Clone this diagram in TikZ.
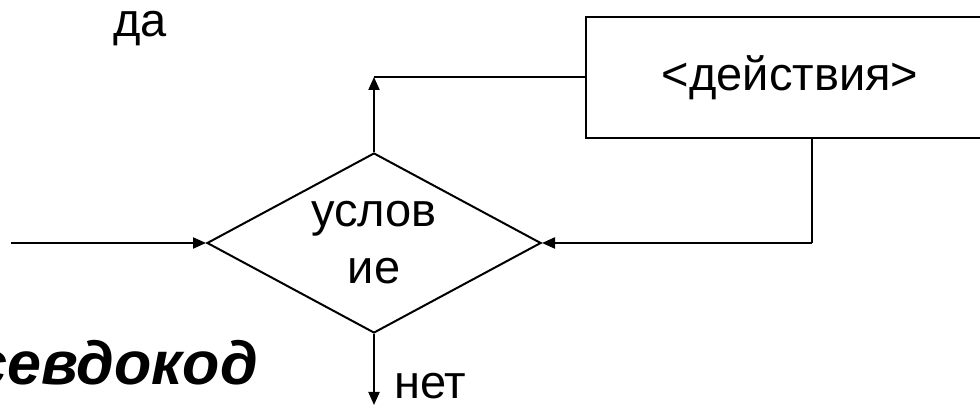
\documentclass[tikz,border=0pt]{standalone}
\usepackage{fontspec}
\setmainfont{Liberation Sans}
\usetikzlibrary{arrows.meta,shapes.geometric}
\tikzset{
  every picture/.style={x=1pt,y=1pt},
  flow/.style={line width=2pt,line join=miter},
  arr/.style={flow,-{Triangle[length=13pt,width=11pt]}},
  lbl/.style={font=\fontsize{47}{56}\selectfont,inner sep=0pt},
  cond/.style={diamond,draw,line width=2pt,aspect=1.86,minimum width=334pt,minimum height=180pt,inner sep=0pt,align=center,font=\fontsize{47}{57}\selectfont},
  actbox/.style={rectangle,draw,line width=2pt,minimum width=408pt,minimum height=121pt,inner sep=0pt,font=\fontsize{47}{56}\selectfont},
}
\begin{document}
\begin{tikzpicture}
\useasboundingbox (0,0) rectangle (980,407);
% decision and action block
\node[cond] (c) at (374,164) {услов\\ие};
\node[actbox,anchor=north west] (act) at (585,391) {<действия>};
% helper points of the loop
\coordinate (in) at (11,164);
\coordinate (up) at (374,330);
\coordinate (back) at (812,164);
\coordinate (out) at (374,2);
% connectors
\draw[arr] (in) -- (c.west);
\draw[arr] (c.north) -- (up);
\draw[flow] (up) -- (act.west |- up);
\draw[flow] (act.south -| back) -- (back);
\draw[arr] (back) -- (c.east);
\draw[arr] (c.south) -- (out);
% labels
\node[lbl,anchor=base west] (yes) at (113,370) {да};
\node[lbl,anchor=base west] (no) at (394,9) {нет};
\node[font=\fontsize{61}{72}\selectfont\bfseries\itshape,inner sep=0pt,anchor=base east] (title) at (258,22) {севдокод};
\end{tikzpicture}
\end{document}
